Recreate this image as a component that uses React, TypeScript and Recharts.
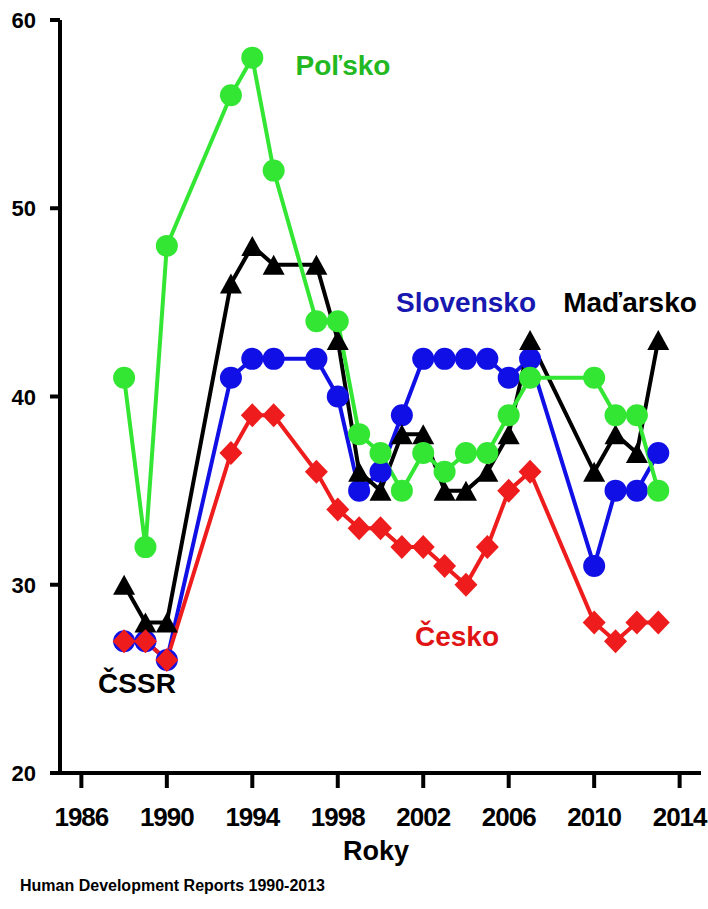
import React from 'react';
import { LineChart, Line, XAxis, YAxis } from 'recharts';

const years = [1988, 1989, 1990, 1993, 1994, 1995, 1997, 1998, 1999, 2000, 2001, 2002, 2003, 2004, 2005, 2006, 2007, 2010, 2011, 2012, 2013];
const polsko = [41, 32, 48, 56, 58, 52, 44, 44, 38, 37, 35, 37, 36, 37, 37, 39, 41, 41, 39, 39, 35];
const madarsko = [30, 28, 28, 46, 48, 47, 47, 43, 36, 35, 38, 38, 35, 35, 36, 38, 43, 36, 38, 37, 43];
const slovensko = [27, 27, 26, 41, 42, 42, 42, 40, 35, 36, 39, 42, 42, 42, 42, 41, 42, 31, 35, 35, 37];
const cesko = [27, 27, 26, 37, 39, 39, 36, 34, 33, 33, 32, 32, 31, 30, 32, 35, 36, 28, 27, 28, 28];

const xTicks = [1986, 1990, 1994, 1998, 2002, 2006, 2010, 2014];
const yTicks = [20, 30, 40, 50, 60];

const data = years.map((year, i) => ({
  year,
  polsko: polsko[i],
  madarsko: madarsko[i],
  slovensko: slovensko[i],
  cesko: cesko[i],
}));

const FONT = "'Liberation Sans', Arial, sans-serif";

const GREEN = '#33e633';
const BLUE = '#1010e6';
const RED = '#ee1c1c';

const circleDot = (color: string) => (props: any) => {
  const { cx, cy, index } = props;
  if (cx == null || cy == null) return <g key={`c-${index}`} />;
  return <circle key={`c-${index}`} cx={cx} cy={cy} r={11} fill={color} />;
};

const triangleDot = (props: any) => {
  const { cx, cy, index } = props;
  if (cx == null || cy == null) return <g key={`t-${index}`} />;
  return (
    <polygon
      key={`t-${index}`}
      points={`${cx},${cy - 10} ${cx + 11},${cy + 10} ${cx - 11},${cy + 10}`}
      fill="#000"
    />
  );
};

const diamondDot = (props: any) => {
  const { cx, cy, index } = props;
  if (cx == null || cy == null) return <g key={`d-${index}`} />;
  return (
    <polygon
      key={`d-${index}`}
      points={`${cx},${cy - 12} ${cx + 11.5},${cy} ${cx},${cy + 12} ${cx - 11.5},${cy}`}
      fill={RED}
    />
  );
};

const XTick = (props: any) => {
  const { x, y, payload } = props;
  return (
    <text x={x} y={y + 38} textAnchor="middle" fontFamily={FONT} fontWeight="bold" fontSize={26} letterSpacing={-1} fill="#000">
      {payload.value}
    </text>
  );
};

const YTick = (props: any) => {
  const { x, y, payload } = props;
  return (
    <text x={x - 14} y={y + 8} textAnchor="end" fontFamily={FONT} fontWeight="bold" fontSize={22} fill="#000">
      {payload.value}
    </text>
  );
};

const labelStyle = { fontFamily: FONT, fontWeight: 'bold' as const };

export default function App() {
  return (
    <div style={{ position: 'absolute', left: 0, top: 0, width: 708, height: 909, background: '#fff' }}>
      <LineChart width={708} height={909} data={data} margin={{ top: 20, right: 7, bottom: 106, left: 0 }}>
        <XAxis
          dataKey="year"
          type="number"
          domain={[1985, 2015]}
          ticks={xTicks}
          interval={0}
          height={30}
          stroke="#000"
          axisLine={{ stroke: '#000', strokeWidth: 4 }}
          tickLine={{ stroke: '#000', strokeWidth: 4 }}
          tickSize={15}
          tickMargin={0}
          tick={<XTick />}
        />
        <YAxis
          type="number"
          domain={[20, 60]}
          ticks={yTicks}
          interval={0}
          width={60}
          stroke="#000"
          axisLine={{ stroke: '#000', strokeWidth: 4 }}
          tickLine={{ stroke: '#000', strokeWidth: 4 }}
          tickSize={10}
          tickMargin={0}
          tick={<YTick />}
        />
        <Line type="linear" dataKey="slovensko" stroke={BLUE} strokeWidth={4} dot={circleDot(BLUE)} activeDot={false} isAnimationActive={false} />
        <Line type="linear" dataKey="madarsko" stroke="#000" strokeWidth={4} dot={triangleDot} activeDot={false} isAnimationActive={false} />
        <Line type="linear" dataKey="polsko" stroke={GREEN} strokeWidth={4} dot={circleDot(GREEN)} activeDot={false} isAnimationActive={false} />
        <Line type="linear" dataKey="cesko" stroke={RED} strokeWidth={4} dot={diamondDot} activeDot={false} isAnimationActive={false} />
      </LineChart>
      <svg width={708} height={909} style={{ position: 'absolute', left: 0, top: 0, pointerEvents: 'none' }}>
        <text x={343} y={75} textAnchor="middle" fontSize={28} fill="#22b822" {...labelStyle}>Poľsko</text>
        <text x={466} y={312} textAnchor="middle" fontSize={28} fill="#1818b0" {...labelStyle}>Slovensko</text>
        <text x={630} y={312} textAnchor="middle" fontSize={28} fill="#000" {...labelStyle}>Maďarsko</text>
        <text x={457} y={646} textAnchor="middle" fontSize={28} fill="#e01414" {...labelStyle}>Česko</text>
        <text x={137} y={693} textAnchor="middle" fontSize={28} fill="#000" {...labelStyle}>ČSSR</text>
        <text x={376} y={860} textAnchor="middle" fontSize={27} fill="#000" {...labelStyle}>Roky</text>
        <text x={20} y={891} textAnchor="start" fontSize={16} fill="#000" {...labelStyle}>Human Development Reports 1990-2013</text>
      </svg>
    </div>
  );
}
